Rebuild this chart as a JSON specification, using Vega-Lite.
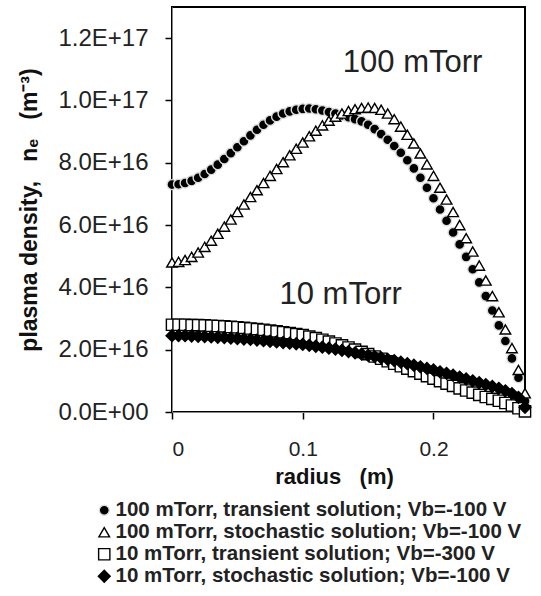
{
  "$schema": "https://vega.github.io/schema/vega-lite/v6.json",
  "width": 353,
  "height": 405,
  "autosize": {"type": "none"},
  "padding": {"left": 172, "top": 7, "right": 16, "bottom": 184},
  "background": "white",
  "config": {
    "font": "Liberation Sans",
    "view": {"stroke": "black", "strokeWidth": 2},
    "axis": {"grid": false, "labelColor": "#222", "titleColor": "#111", "labelFont": "Liberation Sans", "titleFont": "Liberation Sans"},
    "legend": {"title": null, "orient": "none", "legendX": -78, "legendY": 493, "padding": 0, "rowPadding": 1, "labelOffset": 1, "labelLimit": 600,
      "labelFontSize": 20.5, "labelFontWeight": "bold", "labelColor": "#222", "labelFont": "Liberation Sans", "symbolStrokeWidth": 1.4}
  },
  "layer": [
    {
      "data": {"values": [
        {"s":"A","r":0,"n":7.30e16},{"s":"A","r":0.005,"n":7.31e16},{"s":"A","r":0.01,"n":7.35e16},{"s":"A","r":0.015,"n":7.42e16},{"s":"A","r":0.02,"n":7.52e16},{"s":"A","r":0.025,"n":7.64e16},{"s":"A","r":0.03,"n":7.78e16},{"s":"A","r":0.035,"n":7.94e16},{"s":"A","r":0.04,"n":8.12e16},{"s":"A","r":0.045,"n":8.31e16},{"s":"A","r":0.05,"n":8.50e16},{"s":"A","r":0.055,"n":8.69e16},{"s":"A","r":0.06,"n":8.88e16},{"s":"A","r":0.065,"n":9.06e16},{"s":"A","r":0.07,"n":9.22e16},{"s":"A","r":0.075,"n":9.36e16},{"s":"A","r":0.08,"n":9.48e16},{"s":"A","r":0.085,"n":9.58e16},{"s":"A","r":0.09,"n":9.65e16},{"s":"A","r":0.095,"n":9.70e16},{"s":"A","r":0.1,"n":9.73e16},{"s":"A","r":0.105,"n":9.74e16},{"s":"A","r":0.11,"n":9.72e16},{"s":"A","r":0.115,"n":9.68e16},{"s":"A","r":0.12,"n":9.63e16},{"s":"A","r":0.125,"n":9.58e16},{"s":"A","r":0.13,"n":9.52e16},{"s":"A","r":0.135,"n":9.46e16},{"s":"A","r":0.14,"n":9.40e16},{"s":"A","r":0.145,"n":9.33e16},{"s":"A","r":0.15,"n":9.22e16},{"s":"A","r":0.155,"n":9.08e16},{"s":"A","r":0.16,"n":8.92e16},{"s":"A","r":0.165,"n":8.74e16},{"s":"A","r":0.17,"n":8.54e16},{"s":"A","r":0.175,"n":8.32e16},{"s":"A","r":0.18,"n":8.08e16},{"s":"A","r":0.185,"n":7.82e16},{"s":"A","r":0.19,"n":7.52e16},{"s":"A","r":0.195,"n":7.20e16},{"s":"A","r":0.2,"n":6.86e16},{"s":"A","r":0.205,"n":6.50e16},{"s":"A","r":0.21,"n":6.14e16},{"s":"A","r":0.215,"n":5.76e16},{"s":"A","r":0.22,"n":5.38e16},{"s":"A","r":0.225,"n":4.98e16},{"s":"A","r":0.23,"n":4.58e16},{"s":"A","r":0.235,"n":4.16e16},{"s":"A","r":0.24,"n":3.72e16},{"s":"A","r":0.245,"n":3.26e16},{"s":"A","r":0.25,"n":2.78e16},{"s":"A","r":0.255,"n":2.28e16},{"s":"A","r":0.26,"n":1.72e16},{"s":"A","r":0.265,"n":1.10e16},{"s":"A","r":0.27,"n":0.35e16},
        {"s":"B","r":0,"n":4.80e16},{"s":"B","r":0.005,"n":4.82e16},{"s":"B","r":0.01,"n":4.88e16},{"s":"B","r":0.015,"n":4.98e16},{"s":"B","r":0.02,"n":5.12e16},{"s":"B","r":0.025,"n":5.30e16},{"s":"B","r":0.03,"n":5.50e16},{"s":"B","r":0.035,"n":5.72e16},{"s":"B","r":0.04,"n":5.95e16},{"s":"B","r":0.045,"n":6.18e16},{"s":"B","r":0.05,"n":6.42e16},{"s":"B","r":0.055,"n":6.66e16},{"s":"B","r":0.06,"n":6.90e16},{"s":"B","r":0.065,"n":7.12e16},{"s":"B","r":0.07,"n":7.35e16},{"s":"B","r":0.075,"n":7.58e16},{"s":"B","r":0.08,"n":7.80e16},{"s":"B","r":0.085,"n":8.02e16},{"s":"B","r":0.09,"n":8.24e16},{"s":"B","r":0.095,"n":8.45e16},{"s":"B","r":0.1,"n":8.65e16},{"s":"B","r":0.105,"n":8.85e16},{"s":"B","r":0.11,"n":9.03e16},{"s":"B","r":0.115,"n":9.20e16},{"s":"B","r":0.12,"n":9.35e16},{"s":"B","r":0.125,"n":9.48e16},{"s":"B","r":0.13,"n":9.58e16},{"s":"B","r":0.135,"n":9.66e16},{"s":"B","r":0.14,"n":9.72e16},{"s":"B","r":0.145,"n":9.76e16},{"s":"B","r":0.15,"n":9.77e16},{"s":"B","r":0.155,"n":9.76e16},{"s":"B","r":0.16,"n":9.70e16},{"s":"B","r":0.165,"n":9.58e16},{"s":"B","r":0.17,"n":9.40e16},{"s":"B","r":0.175,"n":9.16e16},{"s":"B","r":0.18,"n":8.90e16},{"s":"B","r":0.185,"n":8.62e16},{"s":"B","r":0.19,"n":8.30e16},{"s":"B","r":0.195,"n":7.95e16},{"s":"B","r":0.2,"n":7.58e16},{"s":"B","r":0.205,"n":7.20e16},{"s":"B","r":0.21,"n":6.82e16},{"s":"B","r":0.215,"n":6.42e16},{"s":"B","r":0.22,"n":6.00e16},{"s":"B","r":0.225,"n":5.58e16},{"s":"B","r":0.23,"n":5.15e16},{"s":"B","r":0.235,"n":4.70e16},{"s":"B","r":0.24,"n":4.22e16},{"s":"B","r":0.245,"n":3.72e16},{"s":"B","r":0.25,"n":3.20e16},{"s":"B","r":0.255,"n":2.65e16},{"s":"B","r":0.26,"n":2.05e16},{"s":"B","r":0.265,"n":1.35e16},{"s":"B","r":0.27,"n":0.60e16},
        {"s":"C","r":0,"n":2.80e16},{"s":"C","r":0.005,"n":2.80e16},{"s":"C","r":0.01,"n":2.80e16},{"s":"C","r":0.015,"n":2.79e16},{"s":"C","r":0.02,"n":2.79e16},{"s":"C","r":0.025,"n":2.78e16},{"s":"C","r":0.03,"n":2.77e16},{"s":"C","r":0.035,"n":2.76e16},{"s":"C","r":0.04,"n":2.75e16},{"s":"C","r":0.045,"n":2.73e16},{"s":"C","r":0.05,"n":2.72e16},{"s":"C","r":0.055,"n":2.70e16},{"s":"C","r":0.06,"n":2.68e16},{"s":"C","r":0.065,"n":2.66e16},{"s":"C","r":0.07,"n":2.64e16},{"s":"C","r":0.075,"n":2.61e16},{"s":"C","r":0.08,"n":2.59e16},{"s":"C","r":0.085,"n":2.56e16},{"s":"C","r":0.09,"n":2.53e16},{"s":"C","r":0.095,"n":2.50e16},{"s":"C","r":0.1,"n":2.47e16},{"s":"C","r":0.105,"n":2.42e16},{"s":"C","r":0.11,"n":2.37e16},{"s":"C","r":0.115,"n":2.32e16},{"s":"C","r":0.12,"n":2.26e16},{"s":"C","r":0.125,"n":2.20e16},{"s":"C","r":0.13,"n":2.14e16},{"s":"C","r":0.135,"n":2.07e16},{"s":"C","r":0.14,"n":2.00e16},{"s":"C","r":0.145,"n":1.93e16},{"s":"C","r":0.15,"n":1.86e16},{"s":"C","r":0.155,"n":1.78e16},{"s":"C","r":0.16,"n":1.71e16},{"s":"C","r":0.165,"n":1.63e16},{"s":"C","r":0.17,"n":1.55e16},{"s":"C","r":0.175,"n":1.47e16},{"s":"C","r":0.18,"n":1.39e16},{"s":"C","r":0.185,"n":1.31e16},{"s":"C","r":0.19,"n":1.23e16},{"s":"C","r":0.195,"n":1.15e16},{"s":"C","r":0.2,"n":1.07e16},{"s":"C","r":0.205,"n":0.99e16},{"s":"C","r":0.21,"n":0.91e16},{"s":"C","r":0.215,"n":0.84e16},{"s":"C","r":0.22,"n":0.76e16},{"s":"C","r":0.225,"n":0.69e16},{"s":"C","r":0.23,"n":0.62e16},{"s":"C","r":0.235,"n":0.55e16},{"s":"C","r":0.24,"n":0.48e16},{"s":"C","r":0.245,"n":0.42e16},{"s":"C","r":0.25,"n":0.36e16},{"s":"C","r":0.255,"n":0.29e16},{"s":"C","r":0.26,"n":0.21e16},{"s":"C","r":0.265,"n":0.12e16},{"s":"C","r":0.27,"n":0.02e16},
        {"s":"D","r":0,"n":2.45e16},{"s":"D","r":0.005,"n":2.45e16},{"s":"D","r":0.01,"n":2.45e16},{"s":"D","r":0.015,"n":2.44e16},{"s":"D","r":0.02,"n":2.43e16},{"s":"D","r":0.025,"n":2.42e16},{"s":"D","r":0.03,"n":2.41e16},{"s":"D","r":0.035,"n":2.40e16},{"s":"D","r":0.04,"n":2.39e16},{"s":"D","r":0.045,"n":2.37e16},{"s":"D","r":0.05,"n":2.36e16},{"s":"D","r":0.055,"n":2.34e16},{"s":"D","r":0.06,"n":2.33e16},{"s":"D","r":0.065,"n":2.31e16},{"s":"D","r":0.07,"n":2.29e16},{"s":"D","r":0.075,"n":2.27e16},{"s":"D","r":0.08,"n":2.25e16},{"s":"D","r":0.085,"n":2.23e16},{"s":"D","r":0.09,"n":2.21e16},{"s":"D","r":0.095,"n":2.19e16},{"s":"D","r":0.1,"n":2.17e16},{"s":"D","r":0.105,"n":2.14e16},{"s":"D","r":0.11,"n":2.11e16},{"s":"D","r":0.115,"n":2.08e16},{"s":"D","r":0.12,"n":2.05e16},{"s":"D","r":0.125,"n":2.02e16},{"s":"D","r":0.13,"n":1.98e16},{"s":"D","r":0.135,"n":1.94e16},{"s":"D","r":0.14,"n":1.90e16},{"s":"D","r":0.145,"n":1.86e16},{"s":"D","r":0.15,"n":1.82e16},{"s":"D","r":0.155,"n":1.78e16},{"s":"D","r":0.16,"n":1.74e16},{"s":"D","r":0.165,"n":1.69e16},{"s":"D","r":0.17,"n":1.65e16},{"s":"D","r":0.175,"n":1.60e16},{"s":"D","r":0.18,"n":1.55e16},{"s":"D","r":0.185,"n":1.50e16},{"s":"D","r":0.19,"n":1.45e16},{"s":"D","r":0.195,"n":1.40e16},{"s":"D","r":0.2,"n":1.35e16},{"s":"D","r":0.205,"n":1.29e16},{"s":"D","r":0.21,"n":1.24e16},{"s":"D","r":0.215,"n":1.18e16},{"s":"D","r":0.22,"n":1.12e16},{"s":"D","r":0.225,"n":1.06e16},{"s":"D","r":0.23,"n":1.00e16},{"s":"D","r":0.235,"n":0.94e16},{"s":"D","r":0.24,"n":0.88e16},{"s":"D","r":0.245,"n":0.82e16},{"s":"D","r":0.25,"n":0.76e16},{"s":"D","r":0.255,"n":0.68e16},{"s":"D","r":0.26,"n":0.59e16},{"s":"D","r":0.265,"n":0.47e16},{"s":"D","r":0.27,"n":0.15e16}
      ]},
      "mark": {"type": "point", "filled": false, "opacity": 1, "strokeWidth": 1.4, "clip": false},
      "encoding": {
        "x": {"field": "r", "type": "quantitative", "scale": {"domain": [0, 0.27], "nice": false, "zero": false},
          "axis": {"values": [0, 0.1, 0.2], "format": ".1~f", "ticks": true, "tickSize": 7, "tickWidth": 1.5, "tickColor": "#000000",
            "labelFontSize": 21, "labelPadding": 19,
            "title": "radius\u00a0\u00a0\u00a0(m)", "titleFontSize": 22, "titleFontWeight": "bold", "titlePadding": 7, "titleX": 162}},
        "y": {"field": "n", "type": "quantitative", "scale": {"domain": [0, 1.3e17], "nice": false, "zero": true},
          "axis": {"values": [0,2e16,4e16,6e16,8e16,1e17,1.2e17], "ticks": true, "tickSize": 7, "tickWidth": 1.5, "tickColor": "#000000",
            "labelExpr": "round(datum.value/1e16) == 0 ? '0.0E+00' : (round(datum.value/1e16) >= 10 ? format(round(datum.value/1e16)/10, '.1f') + 'E+17' : format(round(datum.value/1e16), '.1f') + 'E+16')",
            "labelFontSize": 24, "labelPadding": 17,
            "title": "plasma density,\u00a0\u00a0\u00a0nₑ\u00a0\u00a0\u00a0(m⁻³)", "titleFontSize": 23, "titleFontWeight": "bold", "titlePadding": 16}},
        "shape": {"field": "s", "type": "nominal", "scale": {"domain": ["A","B","C","D"], "range": ["circle","triangle-up","square","diamond"]},
          "legend": {"labelExpr": "datum.label == 'A' ? '100 mTorr, transient solution; Vb=-100 V' : (datum.label == 'B' ? '100 mTorr, stochastic solution; Vb=-100 V' : (datum.label == 'C' ? '10 mTorr, transient solution; Vb=-300 V' : '10 mTorr, stochastic solution; Vb=-100 V'))"}},
        "fill": {"field": "s", "type": "nominal", "scale": {"domain": ["A","B","C","D"], "range": ["black","white","white","black"]},
          "legend": {"labelExpr": "datum.label == 'A' ? '100 mTorr, transient solution; Vb=-100 V' : (datum.label == 'B' ? '100 mTorr, stochastic solution; Vb=-100 V' : (datum.label == 'C' ? '10 mTorr, transient solution; Vb=-300 V' : '10 mTorr, stochastic solution; Vb=-100 V'))"}},
        "stroke": {"field": "s", "type": "nominal", "scale": {"domain": ["A","B","C","D"], "range": ["#dddddd","black","black","black"]},
          "legend": {"labelExpr": "datum.label == 'A' ? '100 mTorr, transient solution; Vb=-100 V' : (datum.label == 'B' ? '100 mTorr, stochastic solution; Vb=-100 V' : (datum.label == 'C' ? '10 mTorr, transient solution; Vb=-300 V' : '10 mTorr, stochastic solution; Vb=-100 V'))"}},
        "size": {"field": "s", "type": "nominal", "scale": {"domain": ["A","B","C","D"], "range": [100,140,100,45]},
          "legend": {"labelExpr": "datum.label == 'A' ? '100 mTorr, transient solution; Vb=-100 V' : (datum.label == 'B' ? '100 mTorr, stochastic solution; Vb=-100 V' : (datum.label == 'C' ? '10 mTorr, transient solution; Vb=-300 V' : '10 mTorr, stochastic solution; Vb=-100 V'))"}}
      }
    },
    {
      "data": {"values": [
        {"label": "100 mTorr", "r": 0.184, "n": 1.12e17},
        {"label": "10 mTorr", "r": 0.129, "n": 3.75e16}
      ]},
      "mark": {"type": "text", "fontSize": 31, "font": "Liberation Sans", "color": "#222", "align": "center", "baseline": "middle"},
      "encoding": {
        "x": {"field": "r", "type": "quantitative",
          "axis": {"values": [0, 0.1, 0.2], "format": ".1~f", "ticks": true, "tickSize": 7, "tickWidth": 1.5, "tickColor": "#000000",
            "labelFontSize": 21, "labelPadding": 19,
            "title": "radius\u00a0\u00a0\u00a0(m)", "titleFontSize": 22, "titleFontWeight": "bold", "titlePadding": 7, "titleX": 162}},
        "y": {"field": "n", "type": "quantitative",
          "axis": {"values": [0,2e16,4e16,6e16,8e16,1e17,1.2e17], "ticks": true, "tickSize": 7, "tickWidth": 1.5, "tickColor": "#000000",
            "labelExpr": "round(datum.value/1e16) == 0 ? '0.0E+00' : (round(datum.value/1e16) >= 10 ? format(round(datum.value/1e16)/10, '.1f') + 'E+17' : format(round(datum.value/1e16), '.1f') + 'E+16')",
            "labelFontSize": 24, "labelPadding": 17,
            "title": "plasma density,\u00a0\u00a0\u00a0nₑ\u00a0\u00a0\u00a0(m⁻³)", "titleFontSize": 23, "titleFontWeight": "bold", "titlePadding": 16}},
        "text": {"field": "label", "type": "nominal"}
      }
    }
  ]
}
